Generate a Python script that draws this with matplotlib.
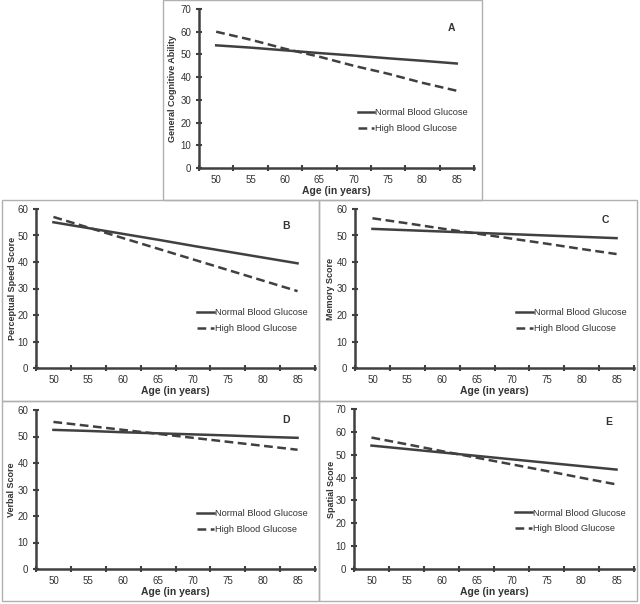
import numpy as np
import matplotlib.pyplot as plt
from matplotlib.patches import Rectangle

plt.rcParams['font.family'] = ['Liberation Sans', 'DejaVu Sans']

ages = ["50", "55", "60", "65", "70", "75", "80", "85"]

# panel: letter, y label, y max, normal, high
letters = ["A", "B", "C", "D", "E"]
ylabels = ["General Cognitive Ability", "Perceptual Speed Score", "Memory Score",
           "Verbal Score", "Spatial Score"]
ymaxes = [70, 60, 60, 60, 70]

normal_a = [54, 53, 51.8, 50.6, 49.5, 48.3, 47.2, 46]
high_a = [60, 56.5, 52.5, 49, 45, 41.5, 37.5, 34]
normal_b = [55, 52.8, 50.6, 48.4, 46.1, 43.9, 41.7, 39.5]
high_b = [57, 53, 49, 45, 41, 37, 33, 29]
normal_c = [52.5, 52, 51.5, 51, 50.5, 50, 49.5, 49]
high_c = [56.5, 54.6, 52.6, 50.7, 48.8, 46.9, 44.9, 43]
normal_d = [52.5, 52.1, 51.6, 51.2, 50.8, 50.4, 49.9, 49.5]
high_d = [55.5, 54, 52.5, 51, 49.5, 48, 46.5, 45]
normal_e = [54, 52.5, 51, 49.5, 48, 46.5, 45, 43.5]
high_e = [57.5, 54.6, 51.6, 48.7, 45.8, 42.9, 39.9, 37]

normals = [normal_a, normal_b, normal_c, normal_d, normal_e]
highs = [high_a, high_b, high_c, high_d, high_e]

W, H = 640, 604
fig = plt.figure(figsize=(6.4, 6.04), dpi=100)

# panel frames (pixels: x0, y0, x1, y1)
frames = [(163, 0, 482, 200), (2, 200, 319, 401), (319, 200, 637, 401),
          (2, 401, 319, 601), (319, 401, 637, 601)]
for x0, y0, x1, y1 in frames:
    fig.patches.append(Rectangle((x0 / W, 1 - y1 / H), (x1 - x0) / W, (y1 - y0) / H,
                                 transform=fig.transFigure, fill=False,
                                 edgecolor="#b0b0b0", lw=1))

# axes boxes (pixels: left, right, top, bottom)
boxes = [(199, 474, 9, 168), (36, 315, 209, 368), (355, 634, 209, 368),
         (36, 315, 410, 569), (354, 634, 409, 569)]
letter_pos = [(0.917, 0.88), (0.896, 0.89), (0.896, 0.93), (0.896, 0.935), (0.91, 0.92)]
ylabel_x = [-0.08, -0.068, -0.071, -0.071, -0.066]

dark = "#404040"
x = np.arange(len(ages))

for i in range(5):
    l, r, t, b = boxes[i]
    ax = fig.add_axes([l / W, 1 - b / H, (r - l) / W, (b - t) / H])
    ax.plot(x, normals[i], color=dark, lw=1.8, label="Normal Blood Glucose")
    ax.plot(x, highs[i], color=dark, lw=1.8, ls=(0, (3.5, 1.8)), label="High Blood Glucose")
    ax.set_xlim(-0.5, 7.5)
    ax.set_ylim(0, ymaxes[i])
    ax.set_yticks(np.arange(0, ymaxes[i] + 1, 10))
    ax.set_xticks(x)
    ax.set_xticklabels(ages)
    ax.set_xticks(np.arange(-0.5, 8, 1), minor=True)
    ax.tick_params(axis="x", which="major", length=0, pad=5, labelsize=7, colors="#333333")
    ax.tick_params(axis="x", which="minor", direction="inout", length=5, width=1.5, color=dark)
    ax.tick_params(axis="y", direction="inout", length=5, width=1.5, color=dark,
                   labelsize=7, labelcolor="#333333", pad=3)
    for s in ["top", "right"]:
        ax.spines[s].set_visible(False)
    for s in ["left", "bottom"]:
        ax.spines[s].set_color(dark)
        ax.spines[s].set_linewidth(1.8)
    ax.set_xlabel("Age (in years)", fontsize=7.5, fontweight="bold", color="#333333", labelpad=1)
    ax.set_ylabel(ylabels[i], fontsize=6.5, fontweight="bold", color="#333333")
    ax.yaxis.set_label_coords(ylabel_x[i], 0.5)
    ax.text(letter_pos[i][0], letter_pos[i][1], letters[i], transform=ax.transAxes,
            fontsize=7.5, fontweight="bold", color="#333333", ha="center", va="center")
    ax.legend(loc="center left", bbox_to_anchor=(0.56, 0.30), frameon=False, fontsize=6.7,
              handlelength=1.8, handletextpad=0.1, labelspacing=0.75, borderpad=0,
              labelcolor="#333333")

fig.savefig("out.png", dpi=100)
